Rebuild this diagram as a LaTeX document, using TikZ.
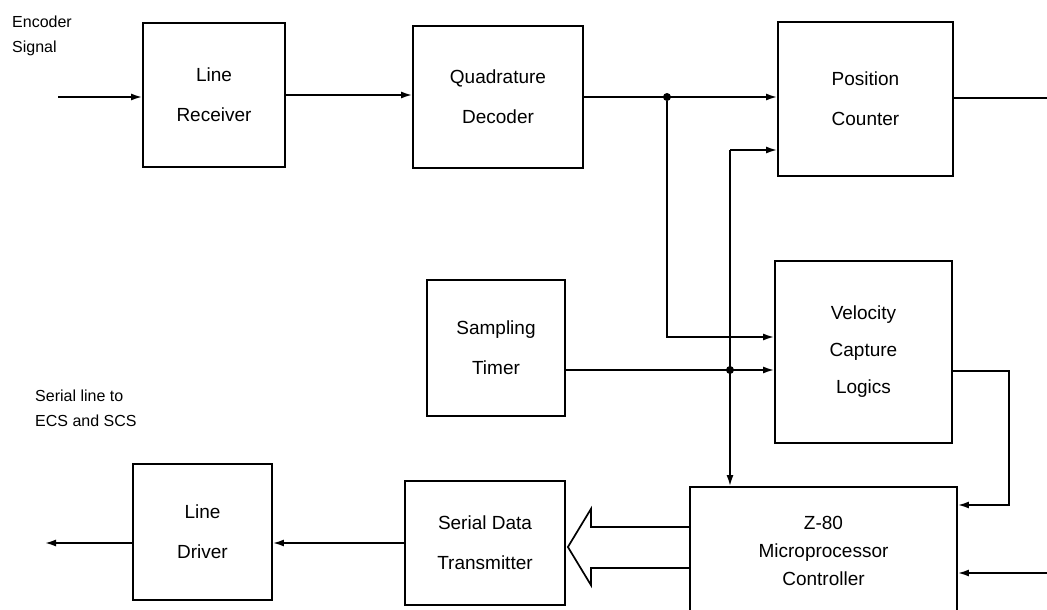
\documentclass[tikz,border=0pt]{standalone}
\usepackage{fontspec}
\setmainfont{Liberation Sans}
\usetikzlibrary{arrows.meta, calc, positioning}

\begin{document}
\begin{tikzpicture}[
    x=1pt, y=-1pt,
    blk/.style={draw, line width=1.8pt, align=center, inner sep=0pt,
      font=\fontsize{19}{40}\selectfont},
    arr/.style={line width=1.7pt, -{Latex[length=11pt, width=7pt]}},
    wire/.style={line width=1.7pt},
    dot/.style={circle, fill, inner sep=0pt, minimum size=8pt},
    note/.style={align=left, anchor=north west, inner sep=0pt,
      font=\fontsize{16}{25}\selectfont}
  ]
  \useasboundingbox (0,0) rectangle (1047,610);

  % blocks
  \node[blk, minimum width=142pt, minimum height=144pt] (lr) at (214,95) {Line\\Receiver};
  \node[blk, minimum width=170pt, minimum height=142pt] (qd) at (498,97) {Quadrature\\Decoder};
  \node[blk, minimum width=175pt, minimum height=154pt] (pc) at (865.5,99) {Position\\Counter};
  \node[blk, minimum width=138pt, minimum height=136pt] (st) at (496,348) {Sampling\\Timer};
  \node[blk, minimum width=177pt, minimum height=182pt,
    font=\fontsize{19}{37}\selectfont] (vc) at (863.5,352) {Velocity\\Capture\\Logics};
  \node[blk, minimum width=267pt, minimum height=128pt,
    font=\fontsize{19}{28}\selectfont] (mp) at (823.5,551) {Z-80\\Microprocessor\\Controller};
  \node[blk, minimum width=160pt, minimum height=124pt] (sdt) at (485,543) {Serial Data\\Transmitter};
  \node[blk, minimum width=139pt, minimum height=136pt] (ld) at (202.5,532) {Line\\Driver};

  % texts
  \node[note] (enc) at (12,16) {Encoder\\Signal};
  \node[note] (ser) at (35,390) {Serial line to\\ECS and SCS};

  % free ends
  \coordinate (sig) at (58,97);
  \coordinate (pcout) at (1047,98);
  \coordinate (mpin) at (1047,573);
  \coordinate (tx) at (45,543);
  \coordinate (bus) at (730,150);
  \coordinate (tl) at ($(st.east)+(0,22)$);

  % signal path
  \draw[arr] (sig) -- (sig -| lr.west);
  \draw[arr] (lr.east) -- (lr.east -| qd.west);
  \draw[arr] (qd.east) -- (qd.east -| pc.west);
  \node[dot] (d1) at (667,97) {};
  \draw[arr] (d1) |- ($(vc.west)+(0,-15)$);
  \draw[arr] (tl) -- (tl -| vc.west);
  \node[dot] (d2) at (bus |- tl) {};
  \draw[arr] (bus) -- (bus -| pc.west);
  \draw[arr] (bus) -- (bus |- mp.north);
  \draw[wire] (pc.east |- pcout) -- (pcout);
  \draw[arr] ($(vc.east)+(0,19)$) -- ++(56,0) |- ($(mp.east)+(0,-46)$);
  \draw[arr] (mpin) -- (mpin -| mp.east);

  % hollow bus arrow
  \draw[line width=1.7pt, line join=miter] ($(mp.west)+(0,-24)$) -- ($(sdt.east)+(25,-16)$)
    -- ($(sdt.east)+(25,-34)$) -- ($(sdt.east)+(2,4)$)
    -- ($(sdt.east)+(25,42)$) -- ($(sdt.east)+(25,25)$) -- ($(mp.west)+(0,17)$);

  \draw[arr] (sdt.west) -- (sdt.west -| ld.east);
  \draw[arr] (tx -| ld.west) -- (tx);
\end{tikzpicture}
\end{document}
